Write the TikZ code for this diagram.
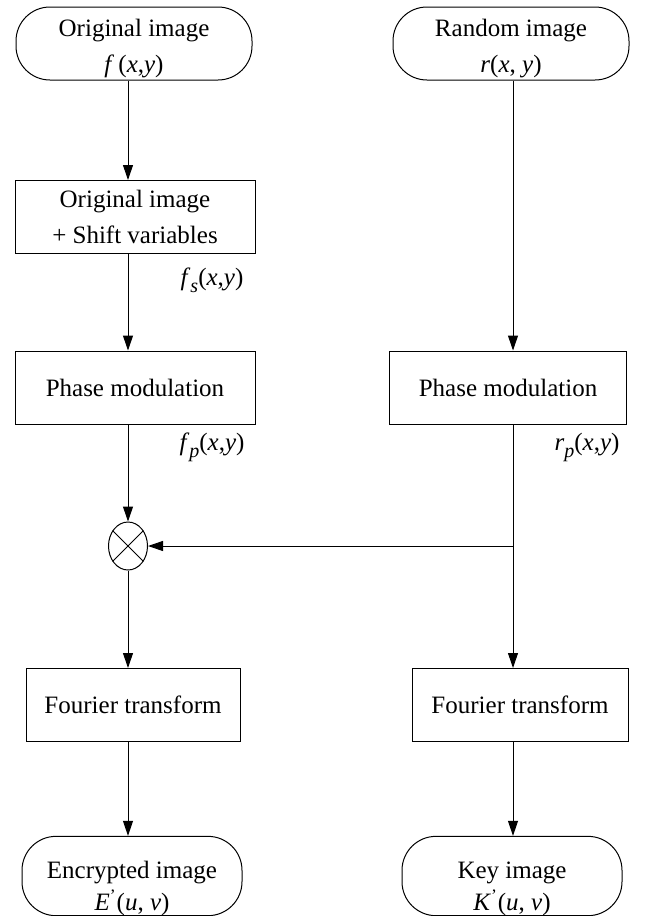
\documentclass[tikz,border=0pt]{standalone}
\usepackage{fontspec}
\setmainfont{Liberation Serif}
\usetikzlibrary{arrows.meta,shapes.geometric}
\newcommand{\lowidx}[1]{\raisebox{-3.5pt}{\fontsize{10}{10}\selectfont\textit{#1}}}
\begin{document}
\begin{tikzpicture}[x=0.5pt, y=-0.5pt, font=\fontsize{12.5}{18}\selectfont, line width=0.5pt, % pixel-like units, y downwards
    term/.style={draw, rectangle, rounded corners=17pt, minimum width=118pt, minimum height=36.5pt, align=center, inner sep=0pt},
    proc/.style={draw, rectangle, minimum width=120pt, minimum height=36.5pt, align=center, inner sep=0pt},
    mult/.style={draw, ellipse, minimum width=19.5pt, minimum height=24pt, inner sep=0pt},
    arr/.style={-{Triangle[length=7.5pt,width=5pt]}}]
    \useasboundingbox (0,0) rectangle (644,916); % Keep the page size
    % Columns of the connectors
    \coordinate (lcol) at (128,0);
    \coordinate (rcol) at (513,0);
    % Draw left branch
    \node[term] (orig) at (134,43.5) {\rule{0pt}{14pt}Original image\\ \textit{f}\,(\textit{x},\textit{y})};
    \node[proc] (shift) at (135,217) {Original image\\ + Shift variables};
    \node[proc] (lphase) at (135,387.5) {Phase modulation};
    \node[mult] (mul) at (128,546) {};
    \node[proc, minimum width=107pt] (lfour) at (133,705) {Fourier transform};
    \node[term, minimum width=110pt] (enc) at (132,876) {\rule{0pt}{21pt}Encrypted image\\[-2pt] \textit{E}\textsuperscript{'}(\textit{u}, \textit{v})};
    % Draw right branch
    \node[term] (rand) at (511,43.5) {\rule{0pt}{14pt}Random image\\ \textit{r}(\textit{x}, \textit{y})};
    \node[proc, minimum width=118.5pt] (rphase) at (508,387.5) {Phase modulation};
    \node[proc, minimum width=108pt] (rfour) at (520,705) {Fourier transform};
    \node[term, minimum width=110pt] (key) at (512,876) {\rule{0pt}{21pt}Key image\\[-2pt] \textit{K}\textsuperscript{'}(\textit{u}, \textit{v})};
    % Draw signal labels
    \node (fs) at (212,280) {\textit{f}\lowidx{s}(\textit{x},\textit{y})};
    \node (fp) at (212,447) {\textit{f}\lowidx{p}(\textit{x},\textit{y})};
    \node (rp) at (587,447) {\textit{r}\lowidx{p}(\textit{x},\textit{y})};
    % Draw multiplier cross
    \draw (mul.45) -- (mul.225) (mul.135) -- (mul.315);
    % Draw connectors
    \draw[arr] (orig.south -| lcol) -- (shift.north -| lcol);
    \draw[arr] (shift.south -| lcol) -- (lphase.north -| lcol);
    \draw[arr] (lphase.south -| lcol) -- (mul.north);
    \draw[arr] (mul.south) -- (lfour.north -| lcol);
    \draw[arr] (lfour.south -| lcol) -- (enc.north -| lcol);
    \draw[arr] (rand.south -| rcol) -- (rphase.north -| rcol);
    \draw[arr] (rphase.south -| rcol) -- (rfour.north -| rcol);
    \draw[arr] (rfour.south -| rcol) -- (key.north -| rcol);
    \coordinate (join) at (rcol |- mul);
    \draw[arr] (join) -- (mul.east); % Key phase into the product
\end{tikzpicture}
\end{document}
